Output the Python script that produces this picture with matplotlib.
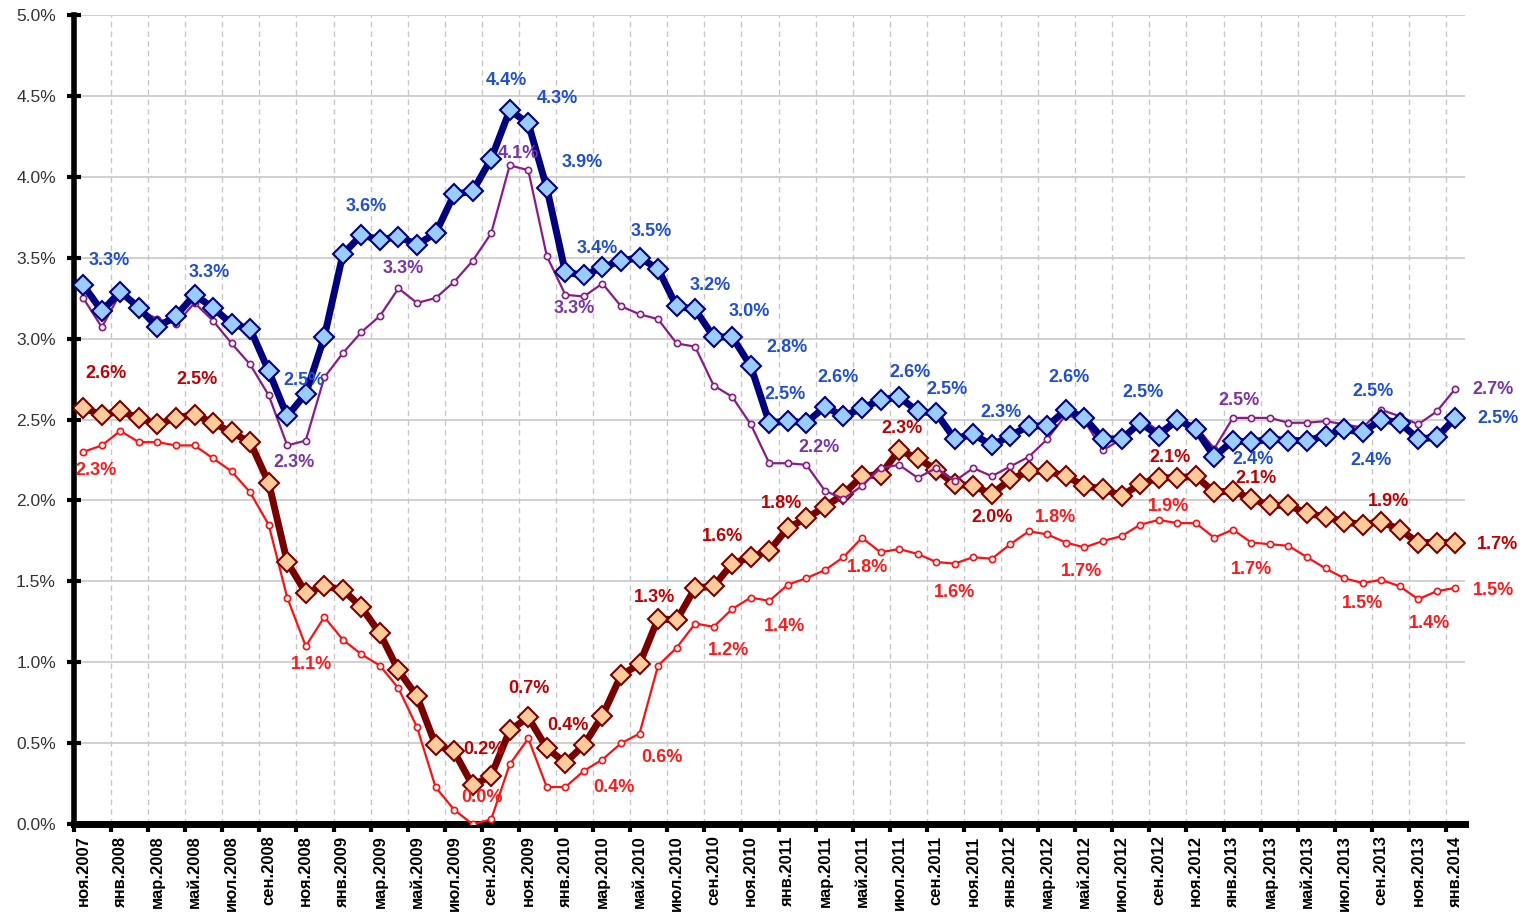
import matplotlib
matplotlib.use('Agg')
import matplotlib.pyplot as plt
from matplotlib.ticker import FixedLocator, FuncFormatter

plt.rcParams['font.family'] = ['Liberation Sans', 'DejaVu Sans']

# monthly values, ноя.2007 .. янв.2014 (75 months), %
blue = [3.33, 3.17, 3.29, 3.19, 3.07, 3.14, 3.27, 3.19, 3.09, 3.06,
        2.80, 2.52, 2.66, 3.01, 3.52, 3.64, 3.61, 3.63, 3.58, 3.65,
        3.89, 3.91, 4.11, 4.41, 4.33, 3.93, 3.41, 3.39, 3.44, 3.48,
        3.50, 3.43, 3.20, 3.18, 3.01, 3.01, 2.83, 2.48, 2.49, 2.48,
        2.58, 2.52, 2.57, 2.62, 2.64, 2.55, 2.54, 2.38, 2.41, 2.34,
        2.40, 2.46, 2.46, 2.56, 2.51, 2.38, 2.38, 2.48, 2.40, 2.50,
        2.44, 2.27, 2.37, 2.36, 2.38, 2.37, 2.37, 2.40, 2.44, 2.42,
        2.50, 2.48, 2.38, 2.39, 2.51]
purple = [3.25, 3.07, 3.28, 3.18, 3.12, 3.09, 3.22, 3.11, 2.97, 2.84,
          2.65, 2.34, 2.37, 2.76, 2.91, 3.04, 3.14, 3.31, 3.22, 3.25,
          3.35, 3.48, 3.65, 4.07, 4.04, 3.51, 3.27, 3.26, 3.34, 3.20,
          3.15, 3.12, 2.97, 2.95, 2.71, 2.64, 2.47, 2.23, 2.23, 2.22,
          2.06, 2.01, 2.09, 2.20, 2.22, 2.14, 2.20, 2.12, 2.20, 2.15,
          2.21, 2.27, 2.38, 2.53, 2.49, 2.31, 2.38, 2.51, 2.43, 2.51,
          2.46, 2.32, 2.51, 2.51, 2.51, 2.48, 2.48, 2.49, 2.47, 2.45,
          2.56, 2.52, 2.47, 2.55, 2.69]
darkred = [2.57, 2.53, 2.55, 2.51, 2.47, 2.51, 2.53, 2.48, 2.42, 2.36,
           2.11, 1.62, 1.43, 1.47, 1.45, 1.34, 1.18, 0.95, 0.79, 0.49,
           0.45, 0.24, 0.30, 0.58, 0.66, 0.47, 0.38, 0.49, 0.67, 0.92,
           0.99, 1.27, 1.26, 1.46, 1.47, 1.61, 1.65, 1.69, 1.83, 1.89,
           1.96, 2.04, 2.15, 2.16, 2.31, 2.26, 2.19, 2.10, 2.09, 2.04,
           2.13, 2.18, 2.18, 2.15, 2.09, 2.07, 2.03, 2.10, 2.14, 2.14,
           2.15, 2.05, 2.06, 2.01, 1.97, 1.97, 1.92, 1.90, 1.87, 1.85,
           1.87, 1.82, 1.74, 1.74, 1.74]
red = [2.30, 2.34, 2.43, 2.36, 2.36, 2.34, 2.34, 2.26, 2.18, 2.05,
       1.85, 1.40, 1.10, 1.28, 1.14, 1.05, 0.98, 0.84, 0.60, 0.23,
       0.09, 0.00, 0.03, 0.37, 0.53, 0.23, 0.23, 0.33, 0.40, 0.50,
       0.56, 0.98, 1.09, 1.24, 1.22, 1.33, 1.40, 1.38, 1.48, 1.52,
       1.57, 1.65, 1.77, 1.68, 1.70, 1.67, 1.62, 1.61, 1.65, 1.64,
       1.73, 1.81, 1.79, 1.74, 1.71, 1.75, 1.78, 1.85, 1.88, 1.86,
       1.86, 1.77, 1.82, 1.74, 1.73, 1.72, 1.65, 1.58, 1.52, 1.49,
       1.51, 1.47, 1.39, 1.44, 1.46]

tick_labels = ['ноя.2007', 'янв.2008', 'мар.2008', 'май.2008', 'июл.2008', 'сен.2008',
               'ноя.2008', 'янв.2009', 'мар.2009', 'май.2009', 'июл.2009', 'сен.2009',
               'ноя.2009', 'янв.2010', 'мар.2010', 'май.2010', 'июл.2010', 'сен.2010',
               'ноя.2010', 'янв.2011', 'мар.2011', 'май.2011', 'июл.2011', 'сен.2011',
               'ноя.2011', 'янв.2012', 'мар.2012', 'май.2012', 'июл.2012', 'сен.2012',
               'ноя.2012', 'янв.2013', 'мар.2013', 'май.2013', 'июл.2013', 'сен.2013',
               'ноя.2013', 'янв.2014']

# which points get a value label: (index, dx px, dy px)
blue_lbl = [(0, 26, 25), (6, 15, 22), (11, 17, 36), (15, 5, 28), (23, -3, 30),
            (24, 29, 25), (25, 35, 25), (27, 13, 27), (30, 12, 26), (33, 15, 24),
            (35, 17, 25), (36, 36, 19), (37, 16, 28), (40, 13, 29), (44, 11, 24),
            (46, 11, 24), (49, 9, 33), (53, 3, 32), (57, 3, 30), (63, 2, -17),
            (69, 8, -28), (70, -8, 28), (74, 43, -1)]
purple_lbl = [(11, 7, -17), (17, 5, 20), (23, 9, 12), (26, 9, -14), (39, 13, 17),
              (62, 6, 17), (74, 38, -1)]
darkred_lbl = [(0, 23, 35), (6, 2, 35), (21, 11, 36), (24, 1, 29), (26, 3, 37),
               (31, -4, 21), (35, -10, 27), (38, -6, 24), (44, 3, 22), (49, 0, -24),
               (59, -7, 20), (62, 23, 12), (70, 7, 20), (74, 42, -2)]
red_lbl = [(0, 13, -19), (12, 6, -18), (21, 9, 27), (28, 12, -28), (30, 22, -24),
           (34, 15, -24), (36, 34, -29), (42, 5, -30), (47, 0, -29), (52, 8, 17),
           (54, -3, -24), (58, 10, 13), (63, 0, -27), (69, 0, -20), (72, 11, -24),
           (74, 38, -3)]

x = list(range(len(blue)))

fig = plt.figure(figsize=(15.32, 9.21), dpi=100)
ax = fig.add_axes([0.0483, 0.105, 0.9077, 0.879])

ax.plot(x, red, color='#FF1010', lw=1.6, marker='o', ms=4.5, mfc='white',
        mec='#FF1010', mew=1.2, zorder=3)
ax.plot(x, darkred, color='#7A0000', lw=5, marker='D', ms=10, mfc='#FFCC99',
        mec='#7A0000', mew=1.5, zorder=4)
ax.plot(x, purple, color='#8B1A8B', lw=1.6, marker='o', ms=4.5, mfc='white',
        mec='#8B1A8B', mew=1.2, zorder=5)
ax.plot(x, blue, color='#000080', lw=5, marker='D', ms=10, mfc='#99CCFF',
        mec='#000080', mew=1.5, zorder=6)

def put_labels(vals, lbls, col):
    for i, dx, dy in lbls:
        ax.annotate('%.1f%%' % vals[i], (x[i], vals[i]), xytext=(dx, dy),
                    textcoords='offset pixels', ha='center', va='center',
                    color=col, fontsize=13, fontweight='bold', zorder=8)

put_labels(blue, blue_lbl, '#1E4FD6')
put_labels(purple, purple_lbl, '#7A35A8')
put_labels(darkred, darkred_lbl, '#C00000')
put_labels(red, red_lbl, '#FF1A1A')

ax.set_xlim(-0.5, len(x) - 0.5)
ax.set_ylim(0, 5.0)

ax.set_yticks([i * 0.5 for i in range(11)])
ax.yaxis.set_major_formatter(FuncFormatter(lambda v, p: '%.1f%%' % v))
ax.tick_params(axis='y', direction='inout', length=10, width=3, labelsize=12.5,
               pad=8, colors='black')
ax.tick_params(axis='y', labelcolor='#333333')

# ticks/grid on category boundaries, labels on every second category
ax.xaxis.set_major_locator(FixedLocator([b - 0.5 for b in range(0, len(x) + 1, 2)]))
ax.xaxis.set_major_formatter(FuncFormatter(lambda v, p: ''))
ax.xaxis.set_minor_locator(FixedLocator(list(range(0, len(x), 2))))
ax.set_xticklabels(tick_labels, minor=True, rotation=90, fontsize=12,
                   fontweight='bold')
ax.tick_params(axis='x', which='major', direction='out', length=6, width=3)
ax.tick_params(axis='x', which='minor', length=0, pad=8)

ax.grid(axis='y', color='#C8C8C8', lw=1.2, ls='-', zorder=0)
ax.grid(axis='x', which='major', color='#C8C8C8', lw=1.0, ls=(0, (4, 3)), zorder=0)
ax.set_axisbelow(True)

for s in ['top', 'right']:
    ax.spines[s].set_visible(False)
ax.spines['left'].set_linewidth(4)
ax.spines['bottom'].set_linewidth(5)

plt.savefig('out.png', dpi=100)
